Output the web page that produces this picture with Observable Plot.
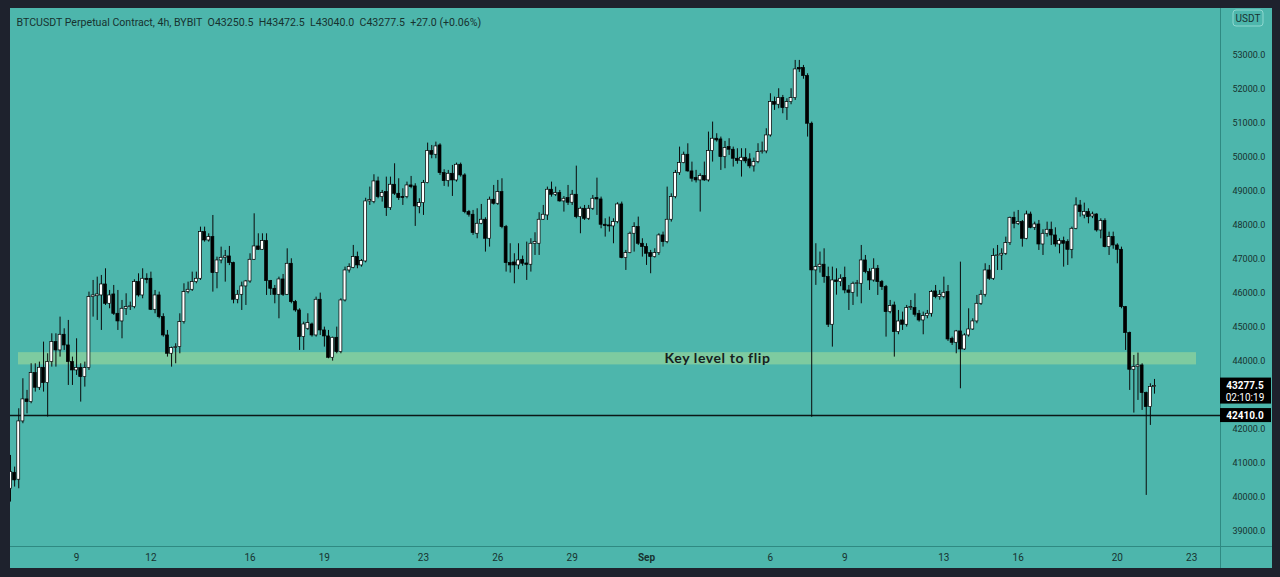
<!DOCTYPE html>
<html><head><meta charset="utf-8">
<script src="https://cdn.jsdelivr.net/npm/d3@7"></script>
<script src="https://cdn.jsdelivr.net/npm/@observablehq/plot@0.6"></script>
<style>
html,body{margin:0;padding:0;background:#1e222d;width:1280px;height:577px;overflow:hidden;}
#wrap{position:absolute;left:10px;top:8px;width:1262px;height:560px;background:#4db6ac;}
#wrap svg{display:block;}
</style></head><body><div id="wrap"></div>
<script>
// ---- data (BTCUSDT perpetual, 4h candles) ----
const startTime = "2021-08-06T08:00:00Z";
const stepHours = 4;
const opens = [40258,40728,40523,42238,42885,42806,43659,43228,43815,43365,43982,44570,44325,44786,44472,43982,43737,43806,43541,43806,
45893,45920,45942,46265,45697,45971,45403,45178,45550,45600,45600,46334,45942,46432,46432,45520,45942,45305,44766,44227,
44400,44423,45158,46040,46109,46334,46432,47804,47559,47657,46599,46971,47049,47089,46893,45815,45961,46207,46354,46991,
47383,47285,47539,46364,46138,45961,46412,45961,46873,45746,45501,44717,44962,45089,44766,45815,44913,44737,44109,44697,
44276,45795,46677,46755,47070,46825,46942,48707,48687,49295,48834,48981,48510,49197,48932,48840,48834,49177,49148,48540,
48658,49246,50186,50079,50353,49540,49304,49520,49324,49785,49471,48393,48315,47756,48050,48168,47609,48756,48638,48981,
47952,46893,46912,46825,46990,46882,46845,47462,47462,48168,48295,49050,48903,48952,48707,48805,48668,48903,48246,48491,
48197,48491,48805,48765,48021,48001,47972,48099,48618,47040,47188,47756,47952,47462,47364,47188,47070,47188,47707,47511,
48168,48834,49540,49834,50079,49589,49393,49325,49452,49325,50187,50550,50530,50011,50305,50227,49962,49894,49991,49942,
49737,49864,50158,50178,50648,51628,51550,51746,51452,51628,51746,52628,52628,52392,50991,46679,46777,46846,46481,45080,
46383,46334,46452,46089,46020,46285,46285,46971,46628,46383,46726,46334,46187,45452,45648,44864,45207,45080,45570,45570,
45403,45207,45334,45403,46060,45893,45893,46040,44668,44550,44884,44354,44766,44942,45178,45697,45962,46677,46432,47098,
47118,47167,47481,48225,48049,48098,47608,48323,47931,48029,47441,47755,47873,47706,47441,47539,47510,47284,47902,48588,
48294,48392,48265,48323,47853,48127,47363,47657,47412,47285,45599,44835,43757,43835,43884,43071,42659,43250.5];
const highs = [41238,40895,42610,43492,43150,43933,43933,43982,44570,44227,44815,44815,45305,44962,45207,44129,44668,43933,43982,46040,
46383,46480,46530,46726,46089,46236,46089,45795,45991,45746,46403,46579,46726,46579,46628,46089,46040,45403,44913,44423,
44521,45403,46285,46334,46628,46628,47951,47951,47755,48294,47069,47363,47265,47383,46920,46089,46334,46383,47167,48343,
47755,47755,47755,46383,46236,46481,46559,47314,47020,45795,45550,45158,45403,45130,45893,46011,45011,44913,44717,45011,
45844,46775,46873,47413,47217,47000,48800,49128,49491,49422,49030,49422,49422,49814,49373,49079,49275,49442,49226,48785,
49324,50422,50353,50451,50402,49638,49618,49765,49834,49834,49520,48442,48442,48491,48618,48226,48834,49177,49324,49373,
48001,47462,47168,47462,47100,47511,47609,47785,48374,48589,49128,49275,49128,49030,48850,49177,49030,49745,48540,48589,
48589,48883,49392,48834,48197,48246,48197,48668,48687,47266,47805,48080,48246,47609,47462,47266,47315,47756,47805,49128,
48932,49618,50304,50157,50402,49863,49620,49520,49864,50746,51040,50697,50599,50472,50550,50305,50256,50256,50256,50109,
49982,50403,50452,50844,51873,51775,52020,51824,51726,52020,52853,52853,52706,52461,51040,47463,47218,47314,46775,46775,
46726,46550,46775,46236,46334,46383,47412,47118,46726,47020,46824,46383,46236,45795,45746,45501,45452,45648,45795,45991,
45501,45452,45501,46089,46236,46089,46481,46236,44717,44913,46922,44815,45550,45256,45942,46089,46873,46824,47314,47412,
47314,47657,48245,48392,48441,48147,48421,48392,48098,48147,47873,48098,48098,47931,47608,47657,47579,47951,48813,48735,
48657,48490,48392,48343,48196,48196,47804,47804,47461,47363,45619,44864,44178,44247,43933,43100,43345,43472.5];
const lows = [39866,40307,40258,42170,42460,42757,43100,43150,43100,42365,43835,43835,44129,44325,43296,43296,43590,42806,43247,43737,
45305,45207,44913,45648,45550,45354,44913,44668,45354,45500,45550,45893,45844,46285,45500,45403,45256,44717,44129,43835,
43933,44227,45100,45990,46060,46285,46383,47510,47510,46040,46138,46873,46334,46820,45697,45697,45501,45648,46300,46971,
47265,47265,45942,45942,45697,45256,45912,45942,45697,45450,44325,44325,44913,44717,44717,44766,44423,44080,44011,44227,
44227,45750,46600,46727,46727,46775,46900,48590,48638,48785,48687,48266,48442,48883,48736,48589,48785,49079,47972,48344,
48295,49226,49961,49961,49471,49148,49128,48854,49275,49422,48344,48246,47707,47609,48021,47217,47364,48600,48589,47903,
46629,46600,46286,46700,46800,46384,46629,47119,47119,48148,48148,48834,48850,48687,48393,48589,48589,48197,47756,48148,
48148,48442,48295,47903,47658,47805,47462,48050,47021,46678,47168,47217,47413,47070,46825,46580,47040,47119,47364,47462,
48099,48785,49471,49814,49569,49275,49250,48394,49296,49276,49864,50450,49619,49668,50060,49717,49800,49423,49815,49668,
49570,49815,50100,50109,50599,51383,51432,51285,51089,51550,51677,52500,52300,50599,42360,46238,46600,46300,45000,44423,
45950,46200,45991,45501,45648,45893,45697,46580,46089,46334,45942,46089,44717,45403,44129,44786,44913,45011,45501,45305,
45158,44786,45256,45305,45844,45800,45844,44590,44472,44227,43198,44325,44717,44913,45109,45648,45893,46383,46383,46677,
46677,47118,47412,47902,48000,47363,47579,47902,47853,47265,47118,47657,47412,47363,47167,46775,46824,47020,47873,48245,
48196,48049,48200,47804,47608,47343,47118,47300,46873,45550,44325,43149,42483,42855,42561,40062,42120,43040];
const closes = [40748,40503,42238,42885,42806,43659,43228,43815,43365,43982,44570,44325,44786,44472,43982,43737,43806,43541,43806,45893,
45942,45970,46265,45697,45942,45403,45178,45550,45600,45620,46334,45942,46432,46400,45520,45942,45305,44766,44227,44394,
44420,45158,46040,46109,46334,46432,47804,47559,47657,46599,46971,47049,47089,46893,45815,45961,46207,46354,46991,47383,
47285,47539,46364,46138,45961,46412,45961,46873,45746,45501,44717,45089,45129,44766,45815,44913,44737,44109,44697,44276,
45795,46677,46775,47070,46825,46952,48707,48745,49295,48834,48952,48510,49197,48932,48805,48810,49177,49128,48560,48658,
49246,50186,50079,50324,49540,49304,49520,49324,49785,49471,48393,48315,47776,48050,48168,47609,48756,48638,48981,47952,
46893,46825,46825,46972,46874,46843,47462,47511,48168,48315,49050,48903,48952,48707,48785,48668,48903,48246,48491,48197,
48491,48785,48765,48021,47981,47972,48099,48618,47040,47188,47756,47952,47462,47364,47168,47070,47188,47707,47511,48168,
48834,49540,49834,50079,49589,49374,49325,49452,49325,50187,50550,50501,50011,50276,50227,49962,49894,49991,49884,49737,
49864,50158,50178,50648,51628,51550,51746,51452,51628,51746,52588,52588,52392,50991,46679,46777,46846,46483,45080,46383,
46334,46432,46089,46020,46285,46300,46971,46628,46383,46726,46334,46187,45452,45628,44864,45177,45080,45570,45599,45374,
45207,45334,45403,46040,45893,45960,46020,44648,44550,44884,44354,44766,44942,45178,45697,45962,46677,46432,47098,47118,
47167,47481,48225,48049,48098,47608,48323,47931,48029,47441,47755,47873,47706,47441,47539,47461,47284,47902,48588,48392,
48392,48245,48323,47853,48127,47363,47657,47412,47284,45599,44835,43757,43835,43884,43071,42659,43250.5,43277.5];

// price labels shown on the scale (43000 and 54000 sit under the badges)
const priceTicks = [39000,40000,41000,42000,44000,45000,46000,47000,48000,49000,50000,51000,52000,53000];
const timeTickDates = ["2021-08-09","2021-08-12","2021-08-16","2021-08-19","2021-08-23","2021-08-26","2021-08-29","2021-09-01","2021-09-06","2021-09-09","2021-09-13","2021-09-16","2021-09-20","2021-09-23"];
const timeTickLabels = ["9","12","16","19","23","26","29","Sep","6","9","13","16","20","23"];

const keyLevelLow = 43900, keyLevelHigh = 44260;
const keyLevelStart = "2021-08-06T15:45:00Z", keyLevelEnd = "2021-09-23T04:40:00Z";
const keyLevelText = "Key level to flip";
const keyLevelTextAt = "2021-09-03T20:48:00Z";
const supportLevel = 42410;
const lastPrice = 43277.5;
const countdown = "02:10:19";
const titleText = "BTCUSDT Perpetual Contract, 4h, BYBIT\u00a0\u00a0O43250.5\u00a0\u00a0H43472.5\u00a0\u00a0L43040.0\u00a0\u00a0C43277.5\u00a0\u00a0+27.0 (+0.06%)";
const currency = "USDT";

// ---- build ----
const H = 3600e3;
const t0 = Date.parse(startTime);
const candles = opens.map((o, i) => ({date: new Date(t0 + i * stepHours * H), open: o, high: highs[i], low: lows[i], close: closes[i]}));
const xDomain = [new Date(t0), new Date(t0 + 292.98 * stepHours * H)];
const txtColor = "#17322f";

const chart = Plot.plot({
  width: 1262, height: 560,
  marginLeft: 0, marginRight: 52, marginTop: 0, marginBottom: 22,
  style: {background: "transparent", fontFamily: "Roboto, 'Liberation Sans', sans-serif", fontSize: "10px", color: txtColor, overflow: "visible"},
  x: {type: "utc", domain: xDomain},
  y: {domain: [38560, 54380]},
  marks: [
    Plot.rect([0], {x1: new Date(keyLevelStart), x2: new Date(keyLevelEnd), y1: keyLevelLow, y2: keyLevelHigh, fill: "#a8dc98", fillOpacity: 0.55}),
    Plot.ruleY([supportLevel], {stroke: "#0b1716", strokeWidth: 1.5}),
    Plot.ruleX(candles, {x: "date", y1: "low", y2: "high", stroke: "#0a0a0a", strokeWidth: 1, clip: true}),
    Plot.rect(candles, {x1: d => new Date(+d.date - 2 * H), x2: d => new Date(+d.date + 2 * H), insetLeft: 0.6, insetRight: 0.6,
      y1: "open", y2: "close", fill: d => d.close >= d.open ? "#ffffff" : "#000000", stroke: "#000", strokeWidth: 0.7, clip: true}),
    Plot.text([keyLevelText], {x: new Date(keyLevelTextAt), y: (keyLevelLow + keyLevelHigh) / 2, text: d => d, fontSize: 14, fontWeight: "bold", fill: "#15201e", fontFamily: "Lato, sans-serif"}),
    Plot.text([titleText], {frameAnchor: "top-left", dx: 6, dy: 10, text: d => d, textAnchor: "start", fontSize: 10.6, fill: txtColor}),
    Plot.axisY({anchor: "right", ticks: priceTicks, tickFormat: d => d.toFixed(1), tickSize: 0, tickPadding: 12, fill: txtColor, fontSize: 9}),
    Plot.axisX({ticks: timeTickDates.map(d => new Date(d + "T00:00:00Z")), tickFormat: (d, i) => timeTickLabels[i], tickSize: 0, tickPadding: 7, fill: txtColor})
  ]
});
document.getElementById("wrap").appendChild(chart);

// ---- decorations positioned through the chart's own scales ----
const svg = d3.select(chart);
const ys = chart.scale("y");
const plotRight = 1210, plotBottom = 538;
svg.append("line").attr("x1", plotRight + 0.5).attr("x2", plotRight + 0.5).attr("y1", 0).attr("y2", 560).attr("stroke", "#2f8a82").attr("stroke-width", 1);
svg.append("line").attr("x1", 0).attr("x2", 1262).attr("y1", plotBottom + 0.5).attr("y2", plotBottom + 0.5).attr("stroke", "#2f8a82").attr("stroke-width", 1);
svg.selectAll("text").filter(function () { return this.textContent === "Sep"; }).attr("font-weight", "bold");
svg.selectAll("text").filter(function () { return this.textContent === keyLevelText; }).attr("letter-spacing", "0.6px");

// USDT badge
const g = svg.append("g");
g.append("rect").attr("x", 1223).attr("y", 2).attr("width", 30).attr("height", 16).attr("rx", 3).attr("fill", "#4db6ac").attr("stroke", "#8ed8d0").attr("stroke-width", 1);
g.append("text").attr("x", 1238).attr("y", 13.5).attr("text-anchor", "middle").attr("font-size", 10).attr("font-family", "Roboto, sans-serif").attr("fill", txtColor).text(currency);

// last price + countdown badge
const yLast = ys.apply(lastPrice);
g.append("rect").attr("x", plotRight).attr("y", yLast - 8).attr("width", 51).attr("height", 26).attr("fill", "#000");
g.append("text").attr("x", plotRight + 25).attr("y", yLast + 3).attr("text-anchor", "middle").attr("font-size", 10).attr("font-weight", "bold").attr("font-family", "Roboto, sans-serif").attr("fill", "#fff").text(lastPrice.toFixed(1));
g.append("text").attr("x", plotRight + 25).attr("y", yLast + 15).attr("text-anchor", "middle").attr("font-size", 10).attr("font-family", "Roboto, sans-serif").attr("fill", "#fff").text(countdown);

// support level badge
const ySup = ys.apply(supportLevel);
g.append("rect").attr("x", plotRight).attr("y", ySup - 7).attr("width", 51).attr("height", 14).attr("fill", "#000");
g.append("text").attr("x", plotRight + 25).attr("y", ySup + 3.5).attr("text-anchor", "middle").attr("font-size", 10).attr("font-weight", "bold").attr("font-family", "Roboto, sans-serif").attr("fill", "#fff").text(supportLevel.toFixed(1));
</script>
</body></html>
